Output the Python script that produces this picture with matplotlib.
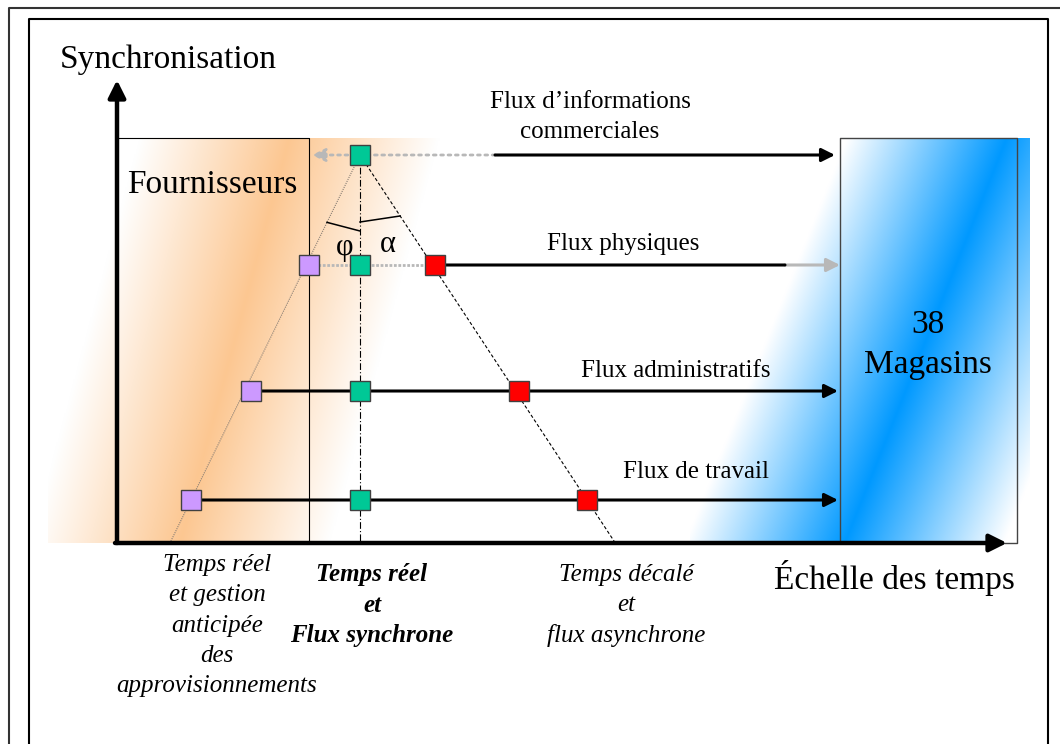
import numpy as np
import matplotlib.pyplot as plt

plt.rcParams['font.family'] = ['Liberation Serif', 'DejaVu Serif']

# flux rows: level of synchronisation (y) and times of the three markers (x)
flux_names = ["Flux d\u2019informations\ncommerciales", "Flux physiques",
              "Flux administratifs", "Flux de travail"]
flux_level = [388, 278, 152, 43]
t_anticipe = [np.nan, 192, 134, 74]
t_synchrone = [243, 243, 243, 243]
t_decale = [np.nan, 318, 402, 470]
black_from = [378, 318, 134, 74]
black_to = [718, 668, 721, 721]

# boxes (time range, synchronisation height)
fourn_box = (0, 192, 405)
magas_box = (723, 900, 405)

# bottom captions
captions = [["Temps r\u00e9el", "et gestion", "anticip\u00e9e", "des", "approvisionnements"],
            ["Temps r\u00e9el", "et", "Flux synchrone"],
            ["Temps d\u00e9cal\u00e9", "et", "flux asynchrone"]]
caption_t = [100, 255, 509]

fig = plt.figure(figsize=(10.6, 7.44), dpi=100)
ax = fig.add_axes([0, 0, 1, 1])
ax.set_xlim(-117, 943)
ax.set_ylim(-201, 543)
ax.axis('off')


def gradient(x0, x1, y0, y1, c0, slope, hw, rgb):
    xs = np.linspace(x0, x1, 400)
    ys = np.linspace(y0, y1, 400)
    X, Y = np.meshgrid(xs, ys)
    a = np.clip(1 - np.abs(X - (c0 + Y * slope)) / hw, 0, 1)[..., None]
    img = (1 - a) * np.ones(3) + a * np.array(rgb)
    ax.imshow(img, extent=[x0, x1, y0, y1], origin='lower', aspect='auto',
              interpolation='bilinear', zorder=0)


gradient(-69, 383, 0, 405, 63, 0.27, 150, (0.99, 0.78, 0.57))
gradient(573, 913, 0, 405, 728, 0.40, 160, (0.0, 0.6, 1.0))

# frame
ax.plot([-108, -108, 1000], [-300, 535, 535], color='#333333', lw=1.5, zorder=1)
ax.plot([-88, -88, 931, 931], [-300, 524, 524, -300], color='black', lw=1.5, zorder=1)

# boxes
t0, t1, h = fourn_box
ax.plot([t0, t1, t1], [h, h, 0], color='black', lw=0.8, zorder=2)
t0, t1, h = magas_box
ax.plot([t0, t0, t1, t1, t0], [0, h, h, 0, 0], color='#444444', lw=1.0, zorder=2)

# axes with arrows
ax.annotate('', xy=(0, 463), xytext=(0, 0),
            arrowprops=dict(arrowstyle='-|>', lw=3.2, color='black',
                            mutation_scale=26, shrinkA=0, shrinkB=0), zorder=6)
ax.annotate('', xy=(890, 0), xytext=(-2, 0),
            arrowprops=dict(arrowstyle='-|>', lw=3.2, color='black',
                            mutation_scale=26, shrinkA=0, shrinkB=0), zorder=6)

# construction lines from the apex
apex_t, apex_l = t_synchrone[0], flux_level[0]
ax.plot([apex_t, apex_t], [apex_l, 0], color='black', lw=0.8,
        ls=(0, (6, 2, 1, 2)), zorder=3)
dt_a = (apex_t - t_anticipe[-1]) / (apex_l - flux_level[-1])
dt_d = (t_decale[-1] - apex_t) / (apex_l - flux_level[-1])
ax.plot([apex_t, apex_t - dt_a * apex_l], [apex_l, 0], color='#8a7f75', lw=0.8,
        ls=(0, (1, 1)), zorder=3)
ax.plot([apex_t, apex_t + dt_d * apex_l], [apex_l, 0], color='black', lw=0.8,
        ls=(0, (3, 2)), zorder=3)

# angle marks
ua = np.array([-dt_a, -1]) / np.hypot(dt_a, 1)
ud = np.array([dt_d, -1]) / np.hypot(dt_d, 1)
apex = np.array([apex_t, apex_l])
p1, p2 = apex + 75 * ua, apex + np.array([0, -76])
ax.plot([p1[0], p2[0]], [p1[1], p2[1]], color='black', lw=1.1, zorder=4)
p1, p2 = apex + np.array([0, -67]), apex + 73 * ud
ax.plot([p1[0], p2[0]], [p1[1], p2[1]], color='black', lw=1.1, zorder=4)
ax.text(228, 295, "\u03c6", fontsize=22, ha='center', va='center', zorder=7)
ax.text(271, 298, "\u03b1", fontsize=22, ha='center', va='center', zorder=7)

# grey secondary flows
grey = '#b8b8b8'
ax.annotate('', xy=(195, flux_level[0]), xytext=(black_from[0], flux_level[0]),
            arrowprops=dict(arrowstyle='-|>', lw=2, color=grey, ls=':',
                            mutation_scale=20, shrinkA=0, shrinkB=0), zorder=4)
ax.plot([t_anticipe[1], t_decale[1]], [flux_level[1]] * 2, color=grey, lw=2,
        ls=(0, (1, 0.6)), zorder=4)
ax.annotate('', xy=(magas_box[0], flux_level[1]), xytext=(black_to[1], flux_level[1]),
            arrowprops=dict(arrowstyle='-|>', lw=2.2, color=grey,
                            mutation_scale=20, shrinkA=0, shrinkB=0), zorder=4)

# main flows
for i in range(len(flux_names)):
    l = flux_level[i]
    style = '-|>' if i != 1 else '-'
    ax.annotate('', xy=(black_to[i], l), xytext=(black_from[i], l),
                arrowprops=dict(arrowstyle=style, lw=2.2, color='black',
                                mutation_scale=20, shrinkA=0, shrinkB=0), zorder=5)

ax.plot(t_anticipe, flux_level, 's', ms=14, mfc='#cc99ff', mec='#404040', mew=1, ls='none', zorder=8)
ax.plot(t_synchrone, flux_level, 's', ms=14, mfc='#00c896', mec='#404040', mew=1, ls='none', zorder=8)
ax.plot(t_decale, flux_level, 's', ms=14, mfc='#ff0000', mec='#404040', mew=1, ls='none', zorder=8)

# flux labels
label_pos = [(473, 426), (506, 299), (559, 172), (579, 71)]
for name, (x, y) in zip(flux_names, label_pos):
    ax.text(x, y, name, fontsize=18, ha='center', va='center', linespacing=1.45, zorder=7)

ax.text(-57, 483, "Synchronisation", fontsize=24, ha='left', va='center', zorder=7)
ax.text(10, 358, "Fournisseurs", fontsize=24, ha='left', va='center', zorder=7)
ax.text(811, 198, "38\nMagasins", fontsize=24, ha='center', va='center', linespacing=1.4, zorder=7)
ax.text(777, -35, "\u00c9chelle des temps", fontsize=24, ha='center', va='center', zorder=7)

# captions, one text per line
weights = ['normal', 'bold', 'normal']
first_line = [-22, -32, -32]
for lines, t, w, y0 in zip(captions, caption_t, weights, first_line):
    for k, line in enumerate(lines):
        ax.text(t, y0 - 30.3 * k, line, fontsize=18, style='italic', weight=w,
                ha='center', va='center', zorder=7)

fig.savefig('out.png', dpi=100)
